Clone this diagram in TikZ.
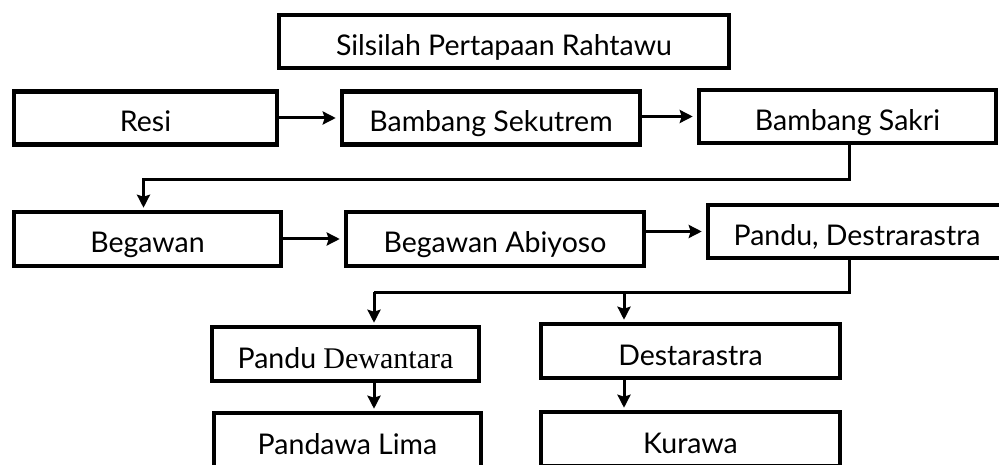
\documentclass[tikz,border=0pt]{standalone}
\usepackage{fontspec}
\setmainfont{Lato}
\newfontfamily\serifword{Liberation Serif}
\usetikzlibrary{arrows.meta}

\begin{document}
\begin{tikzpicture}[x=1pt, y=-1pt,
    box/.style={draw, line width=4.5pt, inner sep=0pt, minimum height=53pt,
      text height=28pt, text depth=0pt, font=\fontsize{28.5}{34}\selectfont},
    arr/.style={line width=3pt, -{Stealth[length=13pt, width=13pt, inset=2pt]}}]
  \clip (0, 0) rectangle (999, 465);
  % top row
  \node [box, minimum width=450pt] (title) at (504, 41.5) {Silsilah Pertapaan Rahtawu};
  \node [box, minimum width=263pt] (resi) at (145.5, 118) {Resi};
  \node [box, minimum width=298pt] (sekutrem) at (491, 118) {Bambang Sekutrem};
  \node [box, minimum width=297pt] (sakri) at (847.5, 116.5) {Bambang Sakri};
  \draw [arr, shorten >=4pt] (resi) -- (sekutrem);
  \draw [arr, shorten >=4pt] (sekutrem.east) -- (sakri.west -| sekutrem.east) -- (sakri.west);
  % second row
  \node [box, minimum width=267pt, minimum height=54pt] (begawan) at (147.5, 239) {Begawan};
  \node [box, minimum width=298pt, minimum height=54pt] (abiyoso) at (495, 239) {Begawan Abiyoso};
  \node [box, minimum width=298pt] (pandudes) at (857, 231.5) {Pandu, Destrarastra};
  \draw [arr, shorten >=2pt] ([xshift=2pt]sakri.south) -- ++(0, 34) -| ([xshift=-4pt]begawan.north);
  \draw [arr, shorten >=4pt] (begawan) -- (abiyoso);
  \draw [arr, shorten >=4pt] (pandudes.west -| abiyoso.east) -- (pandudes.west);
  % children
  \node [box, minimum width=267pt, minimum height=54pt] (dewantara) at (345.5, 354) {Pandu {\serifword\fontsize{30}{34}\selectfont Dewantara}};
  \node [box, minimum width=267pt, minimum height=54pt] (pandawa) at (347.5, 440) {Pandawa Lima};
  \node [box, minimum width=299pt, minimum height=54pt] (destarastra) at (690.5, 351) {Destarastra};
  \node [box, minimum width=299pt, minimum height=54pt] (kurawa) at (690.5, 439) {Kurawa};
  \coordinate (lft) at (374, 292);
  \coordinate (rgt) at (624, 292);
  \draw [line width=3pt] ([xshift=-8pt]pandudes.south) |- (lft);
  \draw [arr, shorten >=2pt] (lft) -- (lft |- dewantara.north);
  \draw [arr, shorten >=2pt] (rgt) -- (rgt |- destarastra.north);
  \draw [arr, shorten >=2pt] (lft |- dewantara.south) -- (lft |- pandawa.north);
  \draw [arr, shorten >=2pt] (rgt |- destarastra.south) -- (rgt |- kurawa.north);
\end{tikzpicture}
\end{document}
